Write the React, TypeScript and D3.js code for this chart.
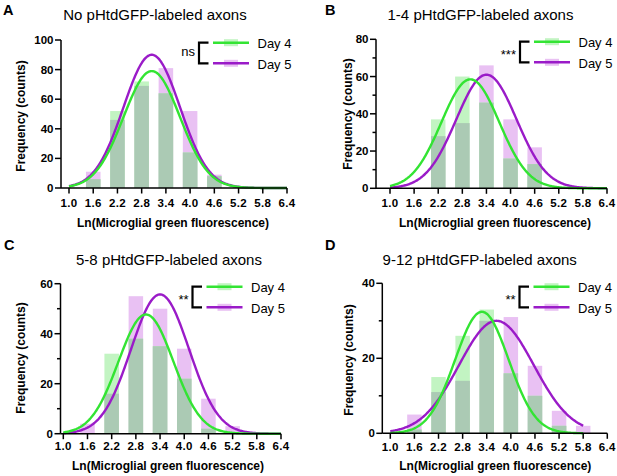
import React from 'react';
import * as d3 from 'd3';

// histogram bins (bin centres) and x ticks
const binCenters = [1.0, 1.6, 2.2, 2.8, 3.4, 4.0, 4.6, 5.2, 5.8, 6.4];
const xTicks = [1.0, 1.6, 2.2, 2.8, 3.4, 4.0, 4.6, 5.2, 5.8, 6.4];

// counts per bin, Day 4 / Day 5
const day4A = [0, 6, 52, 72, 64, 24, 8, 0, 0, 0];
const day5A = [0, 11, 46, 69, 81, 52, 9, 0, 0, 0];
const day4B = [0, 0, 37, 60, 46, 16, 13, 0, 0, 0];
const day5B = [0, 0, 28, 35, 66, 37, 22, 0, 0, 0];
const day4C = [0, 0, 32, 38, 35, 22, 2, 0, 0, 0];
const day5C = [0, 4, 16, 55, 50, 34, 14, 3, 0, 0];
const day4D = [0, 1, 15, 26, 33, 16, 10, 2, 0, 0];
const day5D = [0, 5, 11, 14, 30, 31, 18, 6, 2, 0];

// gaussian fits: [amplitude, mean, sd]
const fit4A = [79, 3.05, 0.7];
const fit5A = [90, 3.05, 0.7];
const fit4B = [58.5, 3.0, 0.72];
const fit5B = [61, 3.4, 0.75];
const fit4C = [47.7, 3.05, 0.68];
const fit5C = [55.7, 3.4, 0.72];
const fit4D = [32.4, 3.28, 0.665];
const fit5D = [30, 3.64, 0.93];

const titles = [
  'No pHtdGFP-labeled axons',
  '1-4 pHtdGFP-labeled axons',
  '5-8 pHtdGFP-labeled axons',
  '9-12 pHtdGFP-labeled axons',
];
const letters = ['A', 'B', 'C', 'D'];
const sigLabels = ['ns', '***', '**', '**'];
const yMaxes = [100, 80, 60, 40];
const legendLabels = ['Day 4', 'Day 5'];

const GREEN = '#33e433';
const PURPLE = '#9a1bc8';
const LIGHT_GREEN = '#c2f4c2';
const LIGHT_PURPLE = '#e9c1f3';
const OVERLAP = '#abcab4';
const FONT = '"Liberation Sans", Arial, Helvetica, sans-serif';

const layouts = [
  { left: 61, x0: 69, x1: 287, top: 40, bottom: 188, minor: false, curveEnd: 6.4,
    letterX: 3, letterY: 15, titleX: 155, titleY: 20, tickY: 207, xTitleX: 173, xTitleY: 227,
    yTitleX: 24.5, yTitleY: 116, bx: 199, by: 42.7 },
  { left: 376, x0: 390, x1: 607, top: 39.3, bottom: 188.3, minor: true, curveEnd: 6.4,
    letterX: 325, letterY: 15, titleX: 480.5, titleY: 20, tickY: 207, xTitleX: 495, xTitleY: 227,
    yTitleX: 351.5, yTitleY: 114, bx: 520, by: 41.7 },
  { left: 60.5, x0: 63.3, x1: 281, top: 283.7, bottom: 433.7, minor: true, curveEnd: 6.4,
    letterX: 4, letterY: 250, titleX: 169, titleY: 265, tickY: 450, xTitleX: 168, xTitleY: 469.5,
    yTitleX: 24.5, yTitleY: 358, bx: 192.5, by: 286.7 },
  { left: 382.3, x0: 390.3, x1: 607.3, top: 283.3, bottom: 433.3, minor: true, curveEnd: 5.8,
    letterX: 325, letterY: 250, titleX: 479.7, titleY: 265, tickY: 450.5, xTitleX: 495.3, xTitleY: 469.5,
    yTitleX: 352.5, yTitleY: 360, bx: 519.5, by: 286.7 },
];

const day4 = [day4A, day4B, day4C, day4D];
const day5 = [day5A, day5B, day5C, day5D];
const fits4 = [fit4A, fit4B, fit4C, fit4D];
const fits5 = [fit5A, fit5B, fit5C, fit5D];

const gauss = (f: number[], x: number) => f[0] * Math.exp(-((x - f[1]) ** 2) / (2 * f[2] * f[2]));

function Panel({ i }: { i: number }) {
  const L = layouts[i];
  const x = d3.scaleLinear().domain([1.0, 6.4]).range([L.x0, L.x1]);
  const y = d3.scaleLinear().domain([0, yMaxes[i]]).range([L.bottom, L.top]);
  const halfW = 0.18;
  const majors = d3.range(0, yMaxes[i] + 1, 20);
  const minors = L.minor ? d3.range(10, yMaxes[i], 20) : [];
  const xs = d3.range(1.0, L.curveEnd + 1e-6, 0.02);
  const curve = (f: number[]) => d3.line<number>().x(v => x(v)).y(v => y(gauss(f, v)))(xs) || '';

  const bars = binCenters.map((c, k) => ({ c, a: day4[i][k], b: day5[i][k] }));
  const sigBase = sigLabels[i] === 'ns' ? 13.7 : 17.5;
  const gap = 20.6;
  const bw = x(1 + 2 * halfW) - x(1);

  return (
    <g fontFamily={FONT}>
      <text x={L.letterX} y={L.letterY} fontSize={14.5} fontWeight="bold">{letters[i]}</text>
      <text x={L.titleX} y={L.titleY} fontSize={15} textAnchor="middle">{titles[i]}</text>

      {/* bars: day 5, day 4, then the overlap */}
      {bars.map(d => (
        <g key={d.c}>
          <rect x={x(d.c - halfW)} width={bw} y={y(d.b)} height={y(0) - y(d.b)} fill={LIGHT_PURPLE} />
          <rect x={x(d.c - halfW)} width={bw} y={y(d.a)} height={y(0) - y(d.a)} fill={LIGHT_GREEN} />
          <rect x={x(d.c - halfW)} width={bw} y={y(Math.min(d.a, d.b))} height={y(0) - y(Math.min(d.a, d.b))} fill={OVERLAP} />
        </g>
      ))}

      {/* fitted curves */}
      <path d={curve(fits5[i])} fill="none" stroke={PURPLE} strokeWidth={2.4} />
      <path d={curve(fits4[i])} fill="none" stroke={GREEN} strokeWidth={2.4} />

      {/* y axis */}
      <line x1={L.left} x2={L.left} y1={L.top} y2={L.bottom} stroke="#000" strokeWidth={1.5} />
      {majors.map(t => (
        <g key={t}>
          <line x1={L.left - 6} x2={L.left} y1={y(t)} y2={y(t)} stroke="#000" strokeWidth={1.5} />
          <text x={L.left - 7.5} y={y(t) + 4} fontSize={11.5} fontWeight="bold" textAnchor="end">{t}</text>
        </g>
      ))}
      {minors.map(t => (
        <line key={t} x1={L.left - 3.5} x2={L.left} y1={y(t)} y2={y(t)} stroke="#000" strokeWidth={1.5} />
      ))}

      {/* x axis */}
      <line x1={L.left} x2={L.x1} y1={L.bottom} y2={L.bottom} stroke="#000" strokeWidth={1.5} />
      {xTicks.map(t => (
        <g key={t}>
          <line x1={x(t)} x2={x(t)} y1={L.bottom} y2={L.bottom + 5.5} stroke="#000" strokeWidth={1.5} />
          <text x={x(t)} y={L.tickY} fontSize={11.5} fontWeight="bold" textAnchor="middle" letterSpacing={0.3}>{t.toFixed(1)}</text>
        </g>
      ))}
      <text x={L.xTitleX} y={L.xTitleY} fontSize={12} fontWeight="bold" textAnchor="middle">Ln(Microglial green fluorescence)</text>
      <text transform={`translate(${L.yTitleX},${L.yTitleY}) rotate(-90)`} fontSize={12} fontWeight="bold" textAnchor="middle">Frequency (counts)</text>

      {/* legend */}
      <path d={`M${L.bx + 9.5},${L.by}H${L.bx}V${L.by + gap}H${L.bx + 9.5}`} fill="none" stroke="#000" strokeWidth={2.2} />
      <text x={L.bx - 4} y={L.by + sigBase} fontSize={13} textAnchor="end">{sigLabels[i]}</text>
      {legendLabels.map((lab, k) => {
        const ly = L.by + k * gap;
        return (
          <g key={lab}>
            <rect x={L.bx + 25} y={ly - 3.5} width={14} height={7} fill={k === 0 ? LIGHT_GREEN : LIGHT_PURPLE} />
            <line x1={L.bx + 14} x2={L.bx + 50} y1={ly} y2={ly} stroke={k === 0 ? GREEN : PURPLE} strokeWidth={2.4} />
            <text x={L.bx + 58.5} y={ly + 5.5} fontSize={13}>{lab}</text>
          </g>
        );
      })}
    </g>
  );
}

export default function App() {
  return (
    <svg width={617} height={476} style={{ position: 'absolute', left: 0, top: 0, background: '#fff' }}>
      <rect width={617} height={476} fill="#fff" />
      {layouts.map((_, i) => <Panel key={i} i={i} />)}
    </svg>
  );
}
